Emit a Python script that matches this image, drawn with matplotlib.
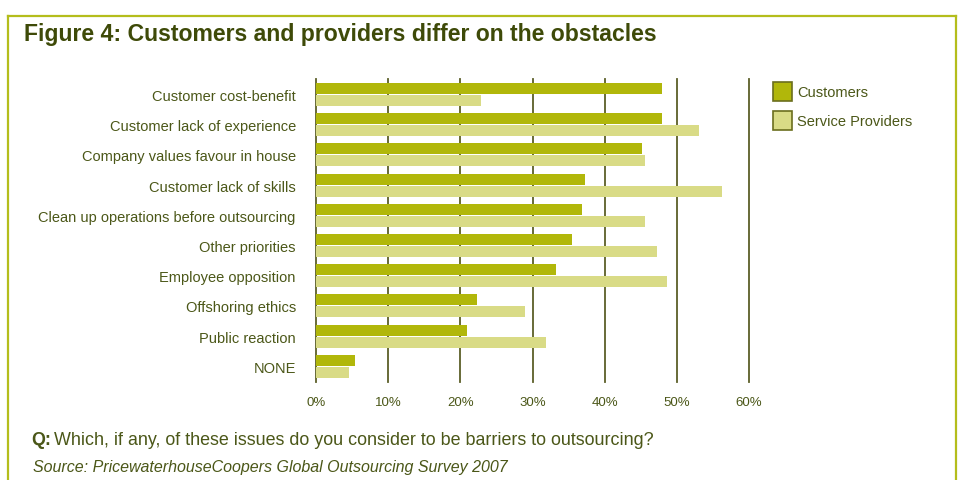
import matplotlib
matplotlib.use("Agg")
import matplotlib.pyplot as plt
from matplotlib.patches import Rectangle
from matplotlib.lines import Line2D

categories = ["Customer cost-benefit", "Customer lack of experience",
              "Company values favour in house", "Customer lack of skills",
              "Clean up operations before outsourcing", "Other priorities",
              "Employee opposition", "Offshoring ethics", "Public reaction", "NONE"]
customers = [48.0, 48.0, 45.2, 37.3, 36.8, 35.5, 33.3, 22.3, 20.9, 5.4]
providers = [22.8, 53.1, 45.6, 56.3, 45.6, 47.2, 48.7, 28.9, 31.9, 4.6]
xticks = [0, 10, 20, 30, 40, 50, 60]
xticklabels = ["0%", "10%", "20%", "30%", "40%", "50%", "60%"]

plt.rcParams['font.family'] = ['Liberation Sans', 'DejaVu Sans']

W, H = 963, 481
fig = plt.figure(figsize=(W / 100, H / 100), dpi=100)
fig.patch.set_facecolor("white")

c_cust = "#b1b70a"
c_prov = "#d9db86"
c_text = "#4b5718"
c_title = "#3e4a08"
c_grid = "#5c5f28"
c_frame = "#b4bd1c"

# frame
fig.add_artist(Line2D([8 / W, 956 / W], [1 - 17 / H, 1 - 17 / H], color=c_frame, lw=1.6))
fig.add_artist(Line2D([8 / W, 8 / W], [1 - 17 / H, 0], color=c_frame, lw=1.6))
fig.add_artist(Line2D([956 / W, 956 / W], [1 - 17 / H, 0], color=c_frame, lw=1.6))

ax = fig.add_axes([316 / W, 1 - 383 / H, (749 - 316) / W, (383 - 80) / H])
n = len(categories)
ys = list(range(n))
h = 0.364
ax.barh([y - 0.2 for y in ys], customers, height=h, color=c_cust, zorder=3)
ax.barh([y + 0.2 for y in ys], providers, height=h, color=c_prov, zorder=3)
ax.set_xlim(0, 60)
ax.set_ylim(9.52, -0.513)
for t in xticks:
    ax.axvline(t, color=c_grid, lw=1.3, zorder=2, clip_on=False)
for s in ax.spines.values():
    s.set_visible(False)
ax.set_xticks(xticks)
ax.set_xticklabels(xticklabels)
ax.set_yticks(ys)
ax.set_yticklabels(categories)
ax.tick_params(axis='both', length=0, colors=c_text, labelsize=10.5)
ax.tick_params(axis='y', pad=14.5)
ax.tick_params(axis='x', pad=10, labelsize=9.5)

# legend
for i, (lab, col) in enumerate([("Customers", c_cust), ("Service Providers", c_prov)]):
    y0 = 83 + i * 29
    fig.add_artist(Rectangle((773 / W, 1 - (y0 + 19) / H), 19 / W, 19 / H,
                             facecolor=col, edgecolor="#6b6e1e", lw=1.2))
    fig.text(797 / W, 1 - (y0 + 10) / H, lab, color=c_text, fontsize=10.5, va='center', ha='left')

fig.text(24 / W, 1 - 35 / H, "Figure 4: Customers and providers differ on the obstacles",
         color=c_title, fontsize=16.6, fontweight='bold', va='center', ha='left')
fig.text(31 / W, 1 - 441 / H, "Q:", color=c_text, fontsize=12.9, fontweight='bold', va='center', ha='left')
fig.text(54 / W, 1 - 441 / H, "Which, if any, of these issues do you consider to be barriers to outsourcing?",
         color=c_text, fontsize=12.9, va='center', ha='left')
fig.text(33 / W, 1 - 468 / H, "Source: PricewaterhouseCoopers Global Outsourcing Survey 2007",
         color=c_text, fontsize=11.5, style='italic', va='center', ha='left')

fig.savefig("out.png", dpi=100, facecolor="white")
